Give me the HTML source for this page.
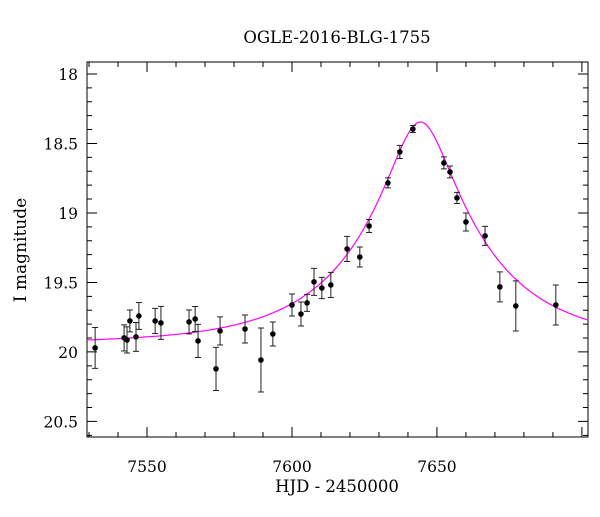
<!DOCTYPE html>
<html><head><meta charset="utf-8"><style>
body{margin:0;background:#fff}
svg text{font-family:"DejaVu Serif","Liberation Serif",serif;fill:#000}
</style></head><body>
<svg id="c" width="600" height="512" viewBox="0 0 600 512" xmlns="http://www.w3.org/2000/svg">
<rect width="600" height="512" fill="#fff"/>
<text x="337" y="43" text-anchor="middle" font-size="16.5">OGLE-2016-BLG-1755</text>
<text x="337" y="492" text-anchor="middle" font-size="16.5">HJD - 2450000</text>
<text transform="translate(26,250) rotate(-90)" text-anchor="middle" font-size="17">I magnitude</text>
<g id="g"></g>
</svg>
<script>
const hjd=[7532.1,7542.1,7543.1,7544.1,7546.2,7547.2,7552.8,7554.8,7564.5,7566.6,7567.6,7573.8,7575.2,7583.8,7589.3,7593.4,7600.0,7603.1,7605.2,7607.6,7610.3,7613.4,7619.0,7623.4,7626.6,7633.1,7637.2,7641.7,7652.4,7654.5,7656.9,7660.0,7666.6,7671.7,7677.2,7691.0];
const mag=[19.971,19.899,19.914,19.777,19.892,19.741,19.777,19.791,19.784,19.763,19.921,20.122,19.849,19.835,20.058,19.871,19.662,19.727,19.647,19.496,19.540,19.518,19.259,19.317,19.094,18.784,18.561,18.396,18.640,18.705,18.892,19.065,19.165,19.532,19.669,19.662];
const err=[0.147,0.094,0.094,0.079,0.104,0.097,0.090,0.119,0.086,0.090,0.119,0.155,0.101,0.101,0.230,0.086,0.079,0.086,0.061,0.097,0.076,0.090,0.090,0.072,0.047,0.036,0.047,0.025,0.043,0.043,0.040,0.065,0.068,0.108,0.180,0.144];
const xTicks=[7550,7600,7650];
const yTicks=[18,18.5,19,19.5,20,20.5];
const model=[7644.3,43,0.235,19.94]; // t0, tE, u0, baseline mag
const L=87,R=588,T=62,B=437,x0=7529.3,x1=7702.1,y0=17.914,y1=20.612;
const sx=v=>L+(v-x0)/(x1-x0)*(R-L), sy=v=>T+(v-y0)/(y1-y0)*(B-T);
const g=document.getElementById('g'),NS='http://www.w3.org/2000/svg';
function mk(t,a){const e=document.createElementNS(NS,t);for(const k in a)e.setAttribute(k,a[k]);g.appendChild(e);return e;}
let e=mk('rect',{x:L,y:T,width:R-L,height:B-T,fill:'none',stroke:'#000','stroke-width':1});


for(let v=7530;v<=7700;v+=10){const X=sx(v),big=v%50==0,len=big?10:5;
 e=mk('path',{d:`M${X},${B}v${-len}M${X},${T}v${len}`,stroke:'#000','stroke-width':1});
 
 }
xTicks.forEach(v=>{e=mk('text',{x:sx(v),y:B+35,'text-anchor':'middle','font-size':15.5});e.textContent=v;
 
 });
for(let i=180;i<=206;i++){const v=i/10,Y=sy(v),big=i%5==0,len=big?10:5;
 e=mk('path',{d:`M${L},${Y}h${len}M${R},${Y}h${-len}`,stroke:'#000','stroke-width':1});
 
 }
yTicks.forEach(v=>{e=mk('text',{x:78,y:sy(v)+6,'text-anchor':'end','font-size':15.5});e.textContent=String(v);
 
 });
let d='';for(let t=x0;t<=x1;t+=0.5){const tau=(t-model[0])/model[1],u=Math.sqrt(tau*tau+model[2]*model[2]);
 const A=(u*u+2)/(u*Math.sqrt(u*u+4));const m=model[3]-2.5*Math.log10(A);d+=(d?'L':'M')+sx(t).toFixed(1)+','+sy(m).toFixed(1);}
e=mk('path',{d:d,fill:'none',stroke:'#ff00ff','stroke-width':1.2});


hjd.forEach((t,i)=>{const X=sx(t),Ya=sy(mag[i]-err[i]),Yb=sy(mag[i]+err[i]);
 e=mk('path',{d:`M${X},${Ya}V${Yb}M${X-3},${Ya}h6M${X-3},${Yb}h6`,stroke:'#222','stroke-width':1});
 
 
 e=mk('circle',{cx:X,cy:sy(mag[i]),r:2.8,fill:'#000'});
 
 });
</script>
</body></html>
